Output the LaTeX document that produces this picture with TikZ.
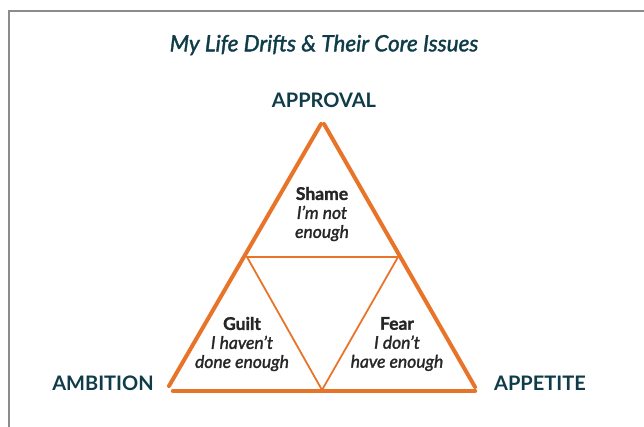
\documentclass[tikz,border=0pt]{standalone}
\usepackage{fontspec}
\setmainfont{Lato}
\newfontfamily\driftfont{Lato}[FakeBold=1.6]
\usepackage{xcolor}
\definecolor{drifttext}{HTML}{0F3C48}
\definecolor{driftorange}{HTML}{E8742A}

\begin{document}
\begin{tikzpicture}[x=1pt,y=-1pt,
    corner/.style={font=\bfseries\fontsize{20}{24}\selectfont, text=drifttext},
    issue/.style={align=center, text=black!85, font=\driftfont\fontsize{17.5}{19}\selectfont},
    outer/.style={driftorange, line width=4pt, line cap=round},
    inner/.style={driftorange, line width=1.8pt}]
  \useasboundingbox (0,0) rectangle (644,427);

  % the frame, cut off at right and bottom:
  \draw[gray!90, line width=1.3pt] (644,11) -- (9,11) -- (9,427);

  % heading and the three drifts:
  \node[font=\driftfont\fontsize{22.5}{24}\selectfont\itshape, text=drifttext] (title) at (324,45) {My Life Drifts \& Their Core Issues};
  \node[corner] (approval) at (324,100) {APPROVAL};
  \node[corner] (ambition) at (103,383) {AMBITION};
  \node[corner] (appetite) at (540,383) {APPETITE};

  % corners of the big triangle and the midpoints:
  \coordinate (topL) at (321,124);
  \coordinate (topR) at (324,124);
  \coordinate (leftA) at (169,386);
  \coordinate (leftB) at (173,391);
  \coordinate (rightA) at (475,387);
  \coordinate (rightB) at (475,391);
  \coordinate (midL) at (247,257);
  \coordinate (midR) at (398,257);
  \coordinate (midB) at (322,390);

  % the strokes:
  \draw[outer] (leftA) -- (topL);
  \draw[outer] (topR) -- (rightA);
  \draw[outer, line width=4.5pt] (leftB) -- (rightB);
  \draw[inner] (midL) -- (midR) -- (midB) -- cycle;

  % letterings:
  \node[issue] (shame) at (322,214) {\textbf{Shame}\\\textit{I’m not}\\\textit{enough}};
  \node[issue] (guilt) at (242,344) {\textbf{Guilt}\\\textit{I haven’t}\\\textit{done enough}};
  \node[issue] (fear) at (397,344) {\textbf{Fear}\\\textit{I don’t}\\\textit{have enough}};
\end{tikzpicture}
\end{document}
